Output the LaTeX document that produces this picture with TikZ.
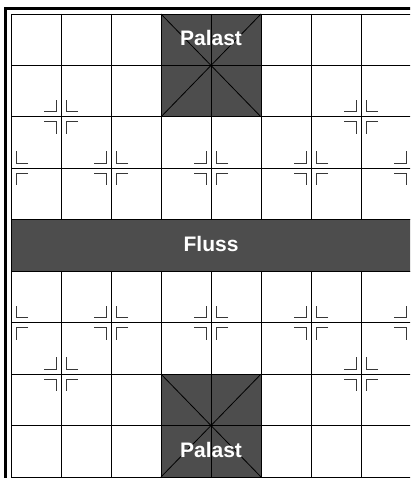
\documentclass[tikz,border=0pt]{standalone}
\usepackage{fontspec}
\setmainfont{Liberation Sans}
\definecolor{boardgray}{HTML}{4D4D4D}
\definecolor{markgray}{HTML}{383838}
\newcommand{\leftcorners}[2]{%
  \draw[markline,shift={(#1,#2)}] (-17pt,5pt) -- (-5pt,5pt) -- (-5pt,17pt);
  \draw[markline,shift={(#1,#2)}] (-17pt,-5pt) -- (-5pt,-5pt) -- (-5pt,-17pt);}
\newcommand{\rightcorners}[2]{%
  \draw[markline,shift={(#1,#2)}] (17pt,5pt) -- (5pt,5pt) -- (5pt,17pt);
  \draw[markline,shift={(#1,#2)}] (17pt,-5pt) -- (5pt,-5pt) -- (5pt,-17pt);}

\begin{document}
\begin{tikzpicture}[x=50pt,y=-51.44pt,
  gridline/.style={line width=0.8pt},
  markline/.style={line width=0.9pt,markgray},
  boardtext/.style={white,font=\bfseries\fontsize{21}{25}\selectfont}]
  \useasboundingbox (-0.22,-0.272) rectangle (7.98,9.02);
  \clip (-0.22,-0.272) rectangle (7.98,9.02);
  \fill[boardgray] (3,0) rectangle (5,2);
  \fill[boardgray] (3,7) rectangle (5,9);
  \foreach \r in {0,...,9} \draw[gridline] (0,\r) -- (8,\r);
  \foreach \c in {0,...,8} {
    \draw[gridline] (\c,0) -- (\c,4);
    \draw[gridline] (\c,5) -- (\c,9);
  }
  \draw[gridline] (3,0) -- (5,2) (5,0) -- (3,2);
  \draw[gridline] (3,7) -- (5,9) (5,7) -- (3,9);
  \draw[gridline,fill=boardgray] (0,4) rectangle (8,5);
  \draw[line width=3pt] (-0.1,-0.107) rectangle (8.1,9.107);
  \node[boardtext] (palastoben) at (4,0.46) {Palast};
  \node[boardtext] (fluss) at (4,4.47) {Fluss};
  \node[boardtext] (palastunten) at (4,8.48) {Palast};
  \foreach \r in {2,7} {
    \leftcorners{1}{\r} \rightcorners{1}{\r}
    \leftcorners{7}{\r} \rightcorners{7}{\r}
  }
  \foreach \r in {3,6} {
    \rightcorners{0}{\r}
    \foreach \c in {2,4,6} {\leftcorners{\c}{\r} \rightcorners{\c}{\r}}
    \leftcorners{8}{\r}
  }
\end{tikzpicture}
\end{document}
